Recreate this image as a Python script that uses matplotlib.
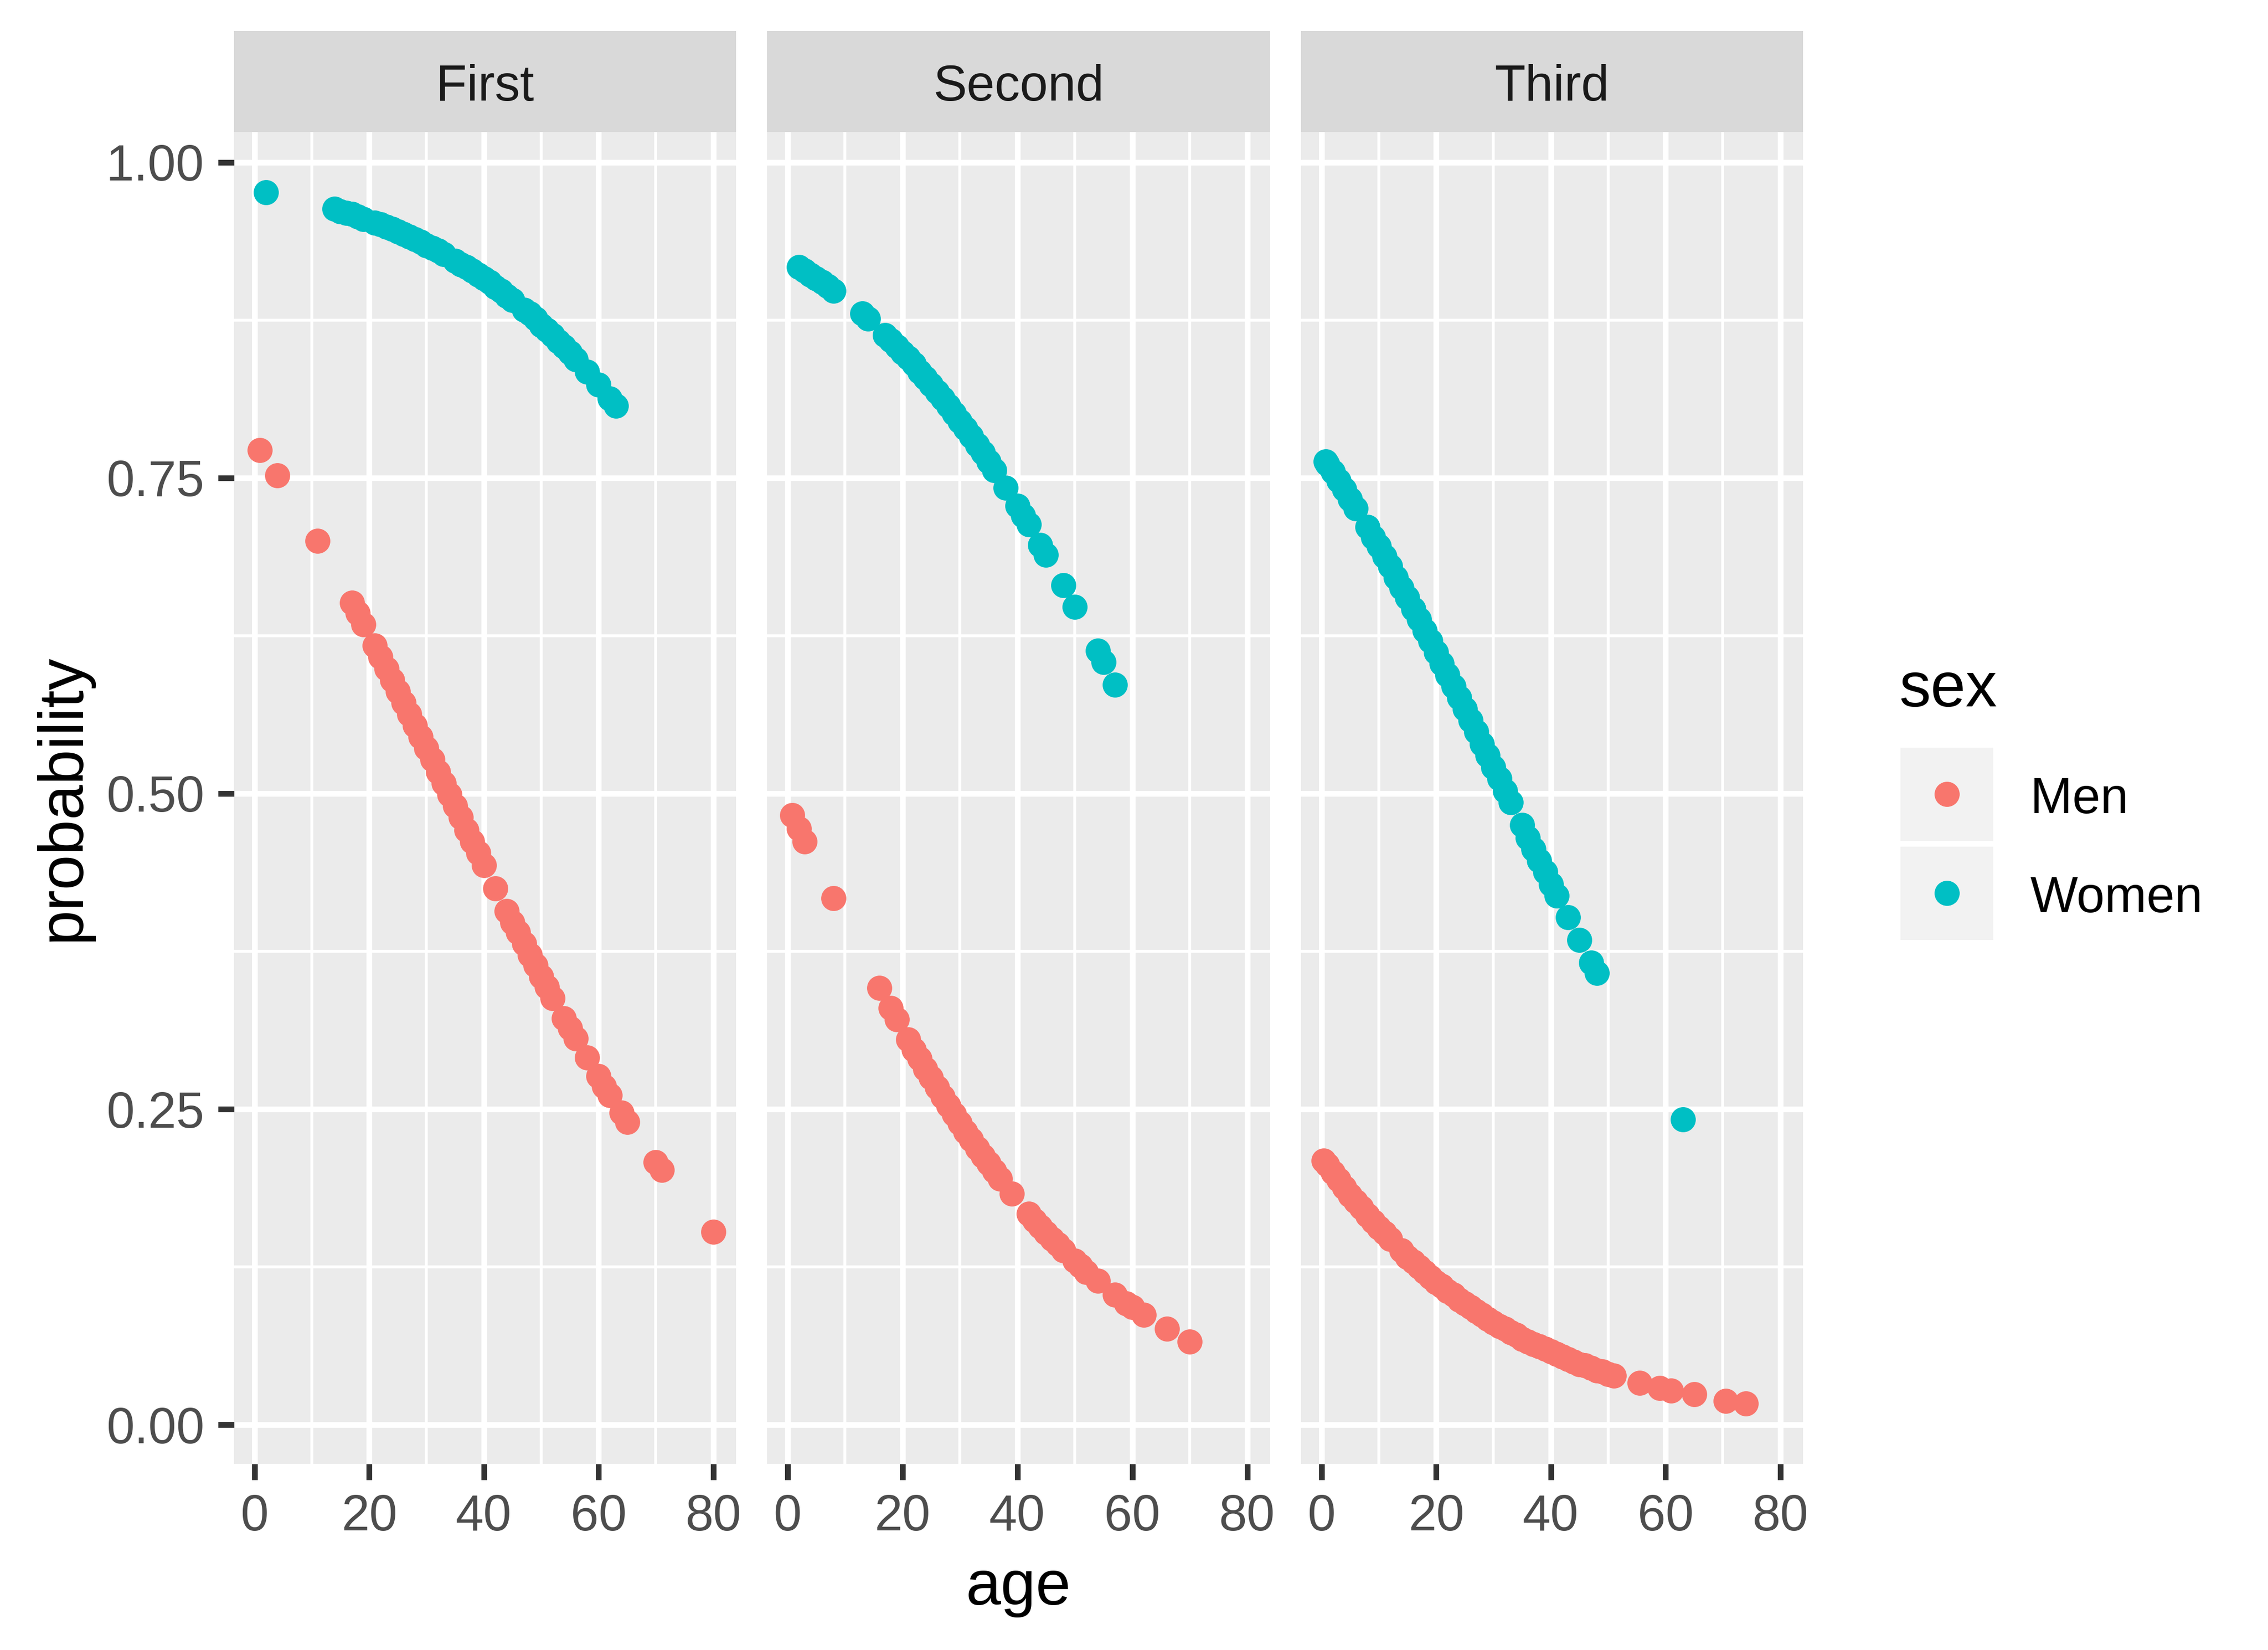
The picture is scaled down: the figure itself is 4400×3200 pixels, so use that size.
import numpy as np
import matplotlib
matplotlib.use("Agg")
import matplotlib.pyplot as plt
from matplotlib.patches import Rectangle

plt.rcParams["font.family"] = ["Liberation Sans", "DejaVu Sans"]

# ---- data ----
classes = ["First", "Second", "Third"]
sexes = ["Men", "Women"]
sex_colors = {"Men": "#F8766D", "Women": "#00BFC4"}

first_men_age = [0.92, 4, 11, 17, 18, 19, 21, 22, 23, 24, 25, 26, 27, 28, 29, 30, 31, 32, 33, 34, 35,
                 36, 37, 38, 39, 40, 42, 44, 45, 46, 47, 48, 49, 50, 51, 52, 54, 55, 56, 58, 60, 61,
                 62, 64, 65, 70, 71, 80]
first_men_prob = [0.772, 0.752, 0.700, 0.651, 0.643, 0.634, 0.617, 0.608, 0.599, 0.590, 0.581, 0.572,
                  0.563, 0.554, 0.545, 0.536, 0.527, 0.517, 0.508, 0.499, 0.490, 0.481, 0.471, 0.462,
                  0.453, 0.443, 0.425, 0.407, 0.398, 0.390, 0.381, 0.372, 0.364, 0.355, 0.347, 0.338,
                  0.322, 0.314, 0.306, 0.291, 0.276, 0.268, 0.261, 0.247, 0.240, 0.208, 0.202, 0.153]

first_women_age = [2, 14, 15, 16, 17, 18, 19, 21, 22, 23, 24, 25, 26, 27, 28, 29, 30, 31, 32, 33, 35,
                   36, 37, 38, 39, 40, 41, 42, 43, 44, 45, 47, 48, 49, 50, 51, 52, 53, 54, 55, 56, 58,
                   60, 62, 63]
first_women_prob = [0.976, 0.963, 0.961, 0.960, 0.959, 0.957, 0.955, 0.952, 0.951, 0.949, 0.947, 0.945,
                    0.943, 0.941, 0.939, 0.937, 0.934, 0.932, 0.930, 0.927, 0.922, 0.919, 0.917, 0.914,
                    0.911, 0.908, 0.905, 0.901, 0.898, 0.894, 0.891, 0.883, 0.880, 0.876, 0.871, 0.867,
                    0.863, 0.858, 0.854, 0.849, 0.844, 0.834, 0.824, 0.813, 0.807]

second_men_age = [0.83, 2, 3, 8, 16, 18, 19, 21, 22, 23, 24, 25, 26, 27, 28, 29, 30, 31, 32, 33, 34,
                  35, 36, 37, 39, 42, 43, 44, 45, 46, 47, 48, 50, 51, 52, 54, 57, 59, 60, 62, 66, 70]
second_men_prob = [0.483, 0.472, 0.462, 0.417, 0.346, 0.330, 0.321, 0.305, 0.297, 0.290, 0.282, 0.275,
                   0.267, 0.260, 0.253, 0.246, 0.239, 0.232, 0.226, 0.219, 0.213, 0.207, 0.201, 0.195,
                   0.183, 0.167, 0.162, 0.157, 0.152, 0.147, 0.143, 0.138, 0.130, 0.126, 0.121, 0.114,
                   0.103, 0.096, 0.093, 0.087, 0.076, 0.066]

second_women_age = [2, 3, 4, 5, 6, 7, 8, 13, 14, 17, 18, 19, 20, 21, 22, 23, 24, 25, 26, 27, 28, 29,
                    30, 31, 32, 33, 34, 35, 36, 38, 40, 41, 42, 44, 45, 48, 50, 54, 55, 57]
second_women_prob = [0.917, 0.914, 0.911, 0.908, 0.905, 0.902, 0.898, 0.880, 0.876, 0.863, 0.859, 0.854,
                     0.849, 0.845, 0.840, 0.834, 0.829, 0.824, 0.818, 0.813, 0.807, 0.801, 0.795, 0.789,
                     0.783, 0.776, 0.770, 0.763, 0.756, 0.742, 0.728, 0.720, 0.713, 0.697, 0.689, 0.665,
                     0.648, 0.613, 0.604, 0.586]

third_men_age = [0.42, 1, 2, 3, 4, 5, 6, 7, 8, 9, 10, 11, 12, 14, 15, 16, 17, 18, 19, 20, 21, 22, 23,
                 24, 25, 26, 27, 28, 29, 30, 31, 32, 33, 34, 35, 36, 37, 38, 39, 40, 41, 42, 43, 44,
                 45, 46, 47, 48, 49, 50, 51, 55.5, 59, 61, 65, 70.5, 74]
third_men_prob = [0.209, 0.206, 0.200, 0.194, 0.188, 0.182, 0.177, 0.172, 0.166, 0.161, 0.156, 0.152,
                  0.147, 0.138, 0.133, 0.129, 0.125, 0.121, 0.117, 0.113, 0.110, 0.106, 0.103, 0.099,
                  0.096, 0.093, 0.090, 0.087, 0.084, 0.081, 0.078, 0.076, 0.073, 0.071, 0.068, 0.066,
                  0.064, 0.062, 0.060, 0.058, 0.056, 0.054, 0.052, 0.050, 0.048, 0.047, 0.045, 0.043,
                  0.042, 0.040, 0.039, 0.033, 0.029, 0.027, 0.024, 0.019, 0.017]

third_women_age = [0.75, 1, 2, 3, 4, 5, 6, 8, 9, 10, 11, 12, 13, 14, 15, 16, 17, 18, 19, 20, 21, 22,
                   23, 24, 25, 26, 27, 28, 29, 30, 31, 32, 33, 35, 36, 37, 38, 39, 40, 41, 43, 45, 47,
                   48, 63]
third_women_prob = [0.763, 0.761, 0.755, 0.748, 0.741, 0.733, 0.726, 0.711, 0.703, 0.696, 0.688, 0.680,
                    0.671, 0.663, 0.655, 0.646, 0.638, 0.629, 0.621, 0.612, 0.603, 0.594, 0.585, 0.576,
                    0.567, 0.558, 0.549, 0.539, 0.530, 0.521, 0.512, 0.502, 0.493, 0.475, 0.465, 0.456,
                    0.447, 0.438, 0.428, 0.419, 0.402, 0.384, 0.366, 0.358, 0.242]

panels = {
    "First": {"Men": (first_men_age, first_men_prob), "Women": (first_women_age, first_women_prob)},
    "Second": {"Men": (second_men_age, second_men_prob), "Women": (second_women_age, second_women_prob)},
    "Third": {"Men": (third_men_age, third_men_prob), "Women": (third_women_age, third_women_prob)},
}

x_ticks = [0, 20, 40, 60, 80]
x_minor = [10, 30, 50, 70]
y_ticks = [0.0, 0.25, 0.5, 0.75, 1.0]
y_tick_labels = ["0.00", "0.25", "0.50", "0.75", "1.00"]
y_minor = [0.125, 0.375, 0.625, 0.875]

# ---- layout helpers (pixel boxes on a 4400x3200 canvas) ----
W, H = 4400, 3200


def box(x0, y0, x1, y1):
    return [x0 / W, 1 - y1 / H, (x1 - x0) / W, (y1 - y0) / H]


fig = plt.figure(figsize=(11, 8), dpi=400)

all_age = np.concatenate([np.asarray(panels[c][s][0], float) for c in classes for s in sexes])
all_prob = np.concatenate([np.asarray(panels[c][s][1], float) for c in classes for s in sexes])
xpad = 0.05 * (all_age.max() - all_age.min())
ypad = 0.05 * (all_prob.max() - all_prob.min())
xlim = (all_age.min() - xpad, all_age.max() + xpad)
ylim = (all_prob.min() - ypad, all_prob.max() + ypad)

panel_x = [(454, 1428), (1488, 2464), (2524, 3498)]
panel_top, panel_bot = 256, 2839
strip_top = 60

tick_col = "#333333"
lab_col = "#4D4D4D"

for i, cls in enumerate(classes):
    x0, x1 = panel_x[i]
    ax = fig.add_axes(box(x0, panel_top, x1, panel_bot))
    ax.set_facecolor("#EBEBEB")
    for sp in ax.spines.values():
        sp.set_visible(False)
    ax.set_axisbelow(True)

    for sex in sexes:
        ages, probs = panels[cls][sex]
        ax.scatter(ages, probs, s=77, color=sex_colors[sex], linewidths=0, zorder=3)

    ax.set_xlim(xlim)
    ax.set_ylim(ylim)
    ax.set_xticks(x_ticks)
    ax.set_xticks(x_minor, minor=True)
    ax.set_yticks(y_ticks)
    ax.set_yticks(y_minor, minor=True)
    ax.set_yticklabels(y_tick_labels)
    ax.grid(which="major", color="white", linewidth=2.0)
    ax.grid(which="minor", color="white", linewidth=1.0)
    ax.tick_params(which="minor", length=0)
    ax.tick_params(which="major", length=5.6, width=2.0, color=tick_col,
                   labelsize=17.6, labelcolor=lab_col, pad=4.8)
    if i > 0:
        ax.tick_params(axis="y", which="major", length=0, labelleft=False)

    sax = fig.add_axes(box(x0, strip_top, x1, panel_top))
    sax.set_facecolor("#D9D9D9")
    sax.set_xticks([])
    sax.set_yticks([])
    for sp in sax.spines.values():
        sp.set_visible(False)
    sax.text(0.5, (panel_top - 195) / (panel_top - strip_top), cls, ha="center", va="baseline",
             fontsize=17.6, color="#1A1A1A", transform=sax.transAxes)

# axis titles
fig.text((454 + 3498) / 2 / W, 1 - 3080 / H, "age", ha="center", va="center", fontsize=22)
fig.text(122 / W, 1 - 1547 / H, "probability", ha="center", va="center", fontsize=22,
         rotation=90)

# legend drawn by hand, ggplot style
lax = fig.add_axes([0, 0, 1, 1], facecolor="none")
lax.set_xlim(0, W)
lax.set_ylim(H, 0)
lax.axis("off")
lax.text(3685, 1370, "sex", ha="left", va="baseline", fontsize=22)
key_tops = [1450, 1642]
for sex, top in zip(sexes, key_tops):
    lax.add_patch(Rectangle((3687, top), 180, 181, facecolor="#F2F2F2", edgecolor="none"))
    lax.scatter([3777], [top + 90], s=77, color=sex_colors[sex], linewidths=0)
    lax.text(3939, top + 127, sex, ha="left", va="baseline", fontsize=17.6)

fig.savefig("out.png", dpi=400, facecolor="white")
